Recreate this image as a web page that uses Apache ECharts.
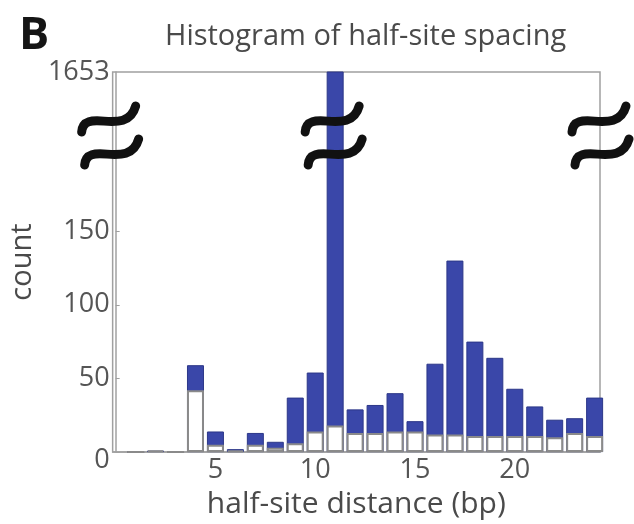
<!DOCTYPE html>
<html>
<head>
<meta charset="utf-8">
<script src="https://cdn.jsdelivr.net/npm/echarts@6/dist/echarts.min.js"></script>
<style>html,body{margin:0;padding:0;background:#fff}#c{width:634px;height:524px}</style>
</head>
<body>
<div id="c"></div>
<script>
// ---- data ----
const distances = [1,2,3,4,5,6,7,8,9,10,11,12,13,14,15,16,17,18,19,20,21,22,23,24];
const totalCounts = [0,1,0,59,14,2,13,7,37,54,1653,29,32,40,21,60,130,75,64,43,31,22,23,37];
const lowerCounts = [0,1,0,42,5,1,5,3,6,14,18,13,13,14,14,12,12,11,11,11,11,10,13,11];
const xTickValues = [5,10,15,20];
const yTickValues = [0,50,100,150];
const yTopLabel = '1653';

const FONT = 'Open Sans';
const Y_TOP = 258; // axis top (broken axis: labelled 1653)

const chart = echarts.init(document.getElementById('c'), null, {renderer: 'canvas'});
const yLabelVals = yTickValues.concat([Y_TOP]);

chart.setOption({
  animation: false,
  backgroundColor: '#fff',
  title: [
    {text: 'B', left: 14, top: 9, textStyle: {fontFamily: FONT, fontSize: 45, fontWeight: 'bold', color: '#151515'}},
    {text: 'Histogram of half-site spacing', left: 160, top: 17, textStyle: {fontFamily: FONT, fontSize: 29, fontWeight: 'normal', color: '#4a4a4a'}}
  ],
  grid: {left: 108, right: 34, top: 72, bottom: 70, show: true, borderColor: '#a0a0a0', borderWidth: 1.5, backgroundColor: 'transparent'},
  xAxis: {
    type: 'value', min: -0.15, max: 24.27,
    name: 'half-site distance (bp)', nameLocation: 'middle', nameGap: 18,
    nameTextStyle: {fontFamily: FONT, fontSize: 30, color: '#4a4a4a'},
    axisLine: {show: true, lineStyle: {color: '#a0a0a0', width: 1.5}},
    axisTick: {show: false},
    splitLine: {show: false},
    axisLabel: {customValues: xTickValues, fontFamily: FONT, fontSize: 27, color: '#555', margin: 5}
  },
  yAxis: {
    type: 'value', min: 0, max: Y_TOP,
    name: 'count', nameLocation: 'middle', nameGap: 62, nameRotate: 90,
    nameTextStyle: {fontFamily: FONT, fontSize: 29, color: '#4a4a4a'},
    axisLine: {show: true, lineStyle: {color: '#a0a0a0', width: 1.5}},
    axisTick: {show: true, inside: true, length: 4, customValues: yTickValues, lineStyle: {color: '#a0a0a0'}},
    splitLine: {show: false},
    axisLabel: {
      customValues: yLabelVals, fontFamily: FONT, fontSize: 27, color: '#555', margin: 3,
      formatter: function (v) { if (v === Y_TOP) return yTopLabel; if (v === 0) return '{z|0}'; return String(v); },
      rich: {z: {fontFamily: FONT, fontSize: 27, color: '#555', padding: [16, 0, 0, 0]}}
    }
  },
  series: [
    {
      type: 'bar', name: 'total', barWidth: 17, barGap: '-100%', clip: true,
      data: distances.map((d, i) => [d, totalCounts[i]]),
      itemStyle: {color: '#3a47a9', borderColor: '#2c3788', borderWidth: 1}
    },
    {
      type: 'bar', name: 'lower', barWidth: 17, barGap: '-100%', clip: true,
      data: distances.map((d, i) => [d, lowerCounts[i]]),
      itemStyle: {color: '#ffffff', borderColor: '#8a8a8a', borderWidth: 2}
    }
  ]
});

// break markers (two tildes) on left axis, tall bar and right axis
const xL = chart.convertToPixel({xAxisIndex: 0}, -0.15);
const xM = chart.convertToPixel({xAxisIndex: 0}, 11);
const xR = chart.convertToPixel({xAxisIndex: 0}, 24.27);
const yUp = 120, yLo = 153;
function tilde(cx, cy) {
  return {
    type: 'bezierCurve', z: 100,
    shape: {x1: cx - 27, y1: cy + 12, cpx1: cx - 25, cpy1: cy - 14, cpx2: cx + 18, cpy2: cy + 18, x2: cx + 27, y2: cy - 14},
    style: {stroke: '#111', lineWidth: 9, fill: null, lineCap: 'round'}
  };
}
const g = [];
[xL - 4, xM - 3, xR - 1].forEach(cx => { g.push(tilde(cx, yUp)); g.push(tilde(cx + 3, yLo)); });
chart.setOption({graphic: g});
</script>
</body>
</html>
